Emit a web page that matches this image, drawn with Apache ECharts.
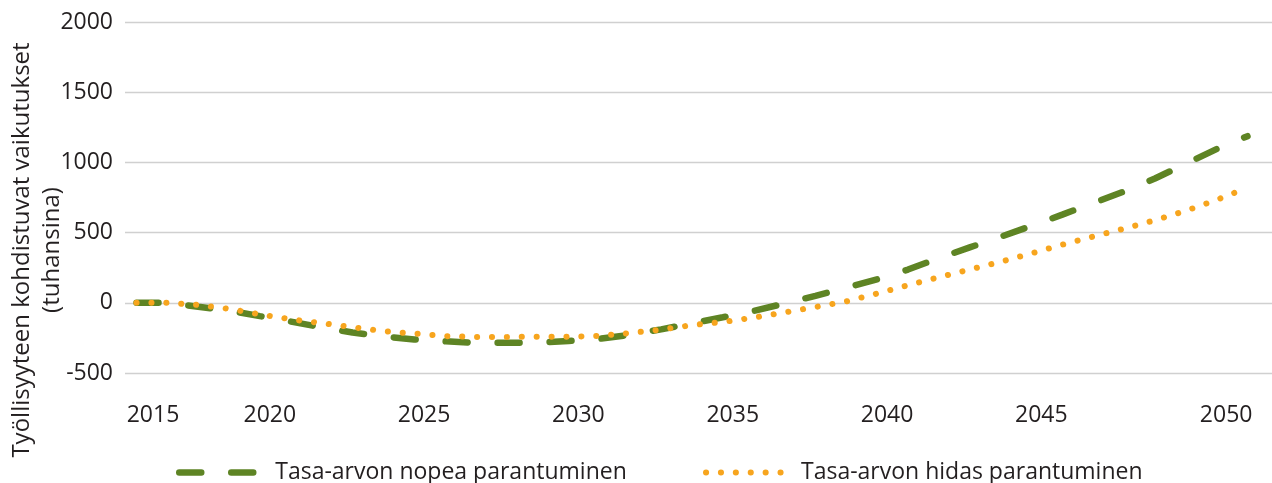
<!DOCTYPE html>
<html>
<head>
<meta charset="utf-8">
<script src="https://cdn.jsdelivr.net/npm/echarts@6/dist/echarts.min.js"></script>
<style>
html,body{margin:0;padding:0;background:#fff;}
#chart{width:1272px;height:483px;}
</style>
</head>
<body>
<div id="chart"></div>
<script>
// vuodet
var years = [2015, 2016, 2017, 2018, 2019, 2020, 2021, 2022, 2023, 2024,
	2025, 2026, 2027, 2028, 2029, 2030, 2031, 2032, 2033, 2034,
	2035, 2036, 2037, 2038, 2039, 2040, 2041, 2042, 2043, 2044,
	2045, 2046, 2047, 2048, 2049, 2050, 2051];
// Tasa-arvon nopea parantuminen
var fastValues = [0, 0, -28, -55, -95, -134, -174, -212, -239, -261,
	-274, -285, -285, -285, -272, -256, -228, -189, -146, -103,
	-58, -5, 50, 108, 168, 237, 318, 395, 470, 548,
	628, 710, 793, 885, 990, 1095, 1187];
// Tasa-arvon hidas parantuminen
var slowValues = [0, 0, -15, -43, -82, -118, -145, -174, -202, -219,
	-237, -244, -243, -242, -242, -236, -215, -191, -159, -137,
	-105, -68, -30, 10, 66, 125, 182, 237, 292, 352,
	414, 472, 528, 588, 655, 733, 820];
var xTicks = [2015, 2020, 2025, 2030, 2035, 2040, 2045, 2050];
var seriesNames = ['Tasa-arvon nopea parantuminen', 'Tasa-arvon hidas parantuminen'];
var yTitle = 'Työllisyyteen kohdistuvat vaikutukset\n(tuhansina)';

var FONT = '"Open Sans"';
var TXT = '#231f20';
var GREEN = '#5e8424';
var ORANGE = '#f7a51e';

function pairs(vals){
	var out = [];
	for (var i = 0; i < vals.length; i++) out.push([years[i], vals[i]]);
	return out;
}

var greenLine = {color: GREEN, width: 6.5, type: [22, 30], cap: 'round'};
var orangeLine = {color: ORANGE, width: 6, type: [0.1, 14.8], cap: 'round'};

var myChart = echarts.init(document.getElementById('chart'));
var option = {
	animation: false,
	grid: {left: 125, right: 0, top: 22, bottom: 110},
	xAxis: {
		type: 'value',
		min: 2014.627,
		max: 2051.794,
		splitLine: {show: false},
		axisLine: {show: false},
		axisTick: {show: false},
		axisLabel: {
			customValues: xTicks,
			margin: 31,
			formatter: function (v) {
				//reunojen tekstit hieman sisäänpäin
				if (v === 2015) return '{first|' + v + '}';
				if (v === 2050) return '{last|' + v + '}';
				return '{mid|' + v + '}';
			},
			rich: {
				first: {fontFamily: FONT, fontSize: 23, color: TXT, padding: [0, 0, 0, 33]},
				last: {fontFamily: FONT, fontSize: 23, color: TXT, padding: [0, 0, 0, 19]},
				mid: {fontFamily: FONT, fontSize: 23, color: TXT, padding: [0, 42, 0, 0]}
			}
		}
	},
	yAxis: {
		type: 'value',
		min: -500,
		max: 2000,
		interval: 500,
		axisLine: {show: false},
		axisTick: {show: false},
		axisLabel: {
			fontFamily: FONT, fontSize: 23, color: TXT, margin: 12,
			formatter: function (v) { return String(v); }
		},
		splitLine: {lineStyle: {color: '#d0d0d0', width: 1.3}}
	},
	legend: [{
		data: [seriesNames[0]],
		left: 176, top: 461, padding: 0,
		itemWidth: 74, itemHeight: 24,
		lineStyle: greenLine,
		itemStyle: {opacity: 0},
		formatter: '{t|{name}}',
		textStyle: {rich: {t: {fontFamily: FONT, fontSize: 23, color: TXT, padding: [0, 0, 0, 17]}}}
	}, {
		data: [seriesNames[1]],
		left: 703, top: 461, padding: 0,
		itemWidth: 75, itemHeight: 24,
		lineStyle: orangeLine,
		itemStyle: {opacity: 0},
		formatter: '{t|{name}}',
		textStyle: {rich: {t: {fontFamily: FONT, fontSize: 23, color: TXT, padding: [0, 0, 0, 15]}}}
	}],
	graphic: [{
		type: 'text',
		x: 37, y: 250,
		rotation: Math.PI / 2,
		style: {
			text: yTitle,
			fontFamily: FONT, fontSize: 24, fill: TXT,
			align: 'center', verticalAlign: 'middle', lineHeight: 30
		}
	}],
	series: [{
		name: seriesNames[0],
		type: 'line',
		showSymbol: false,
		symbol: 'none',
		data: pairs(fastValues),
		lineStyle: greenLine,
		itemStyle: {color: GREEN},
		z: 2
	}, {
		name: seriesNames[1],
		type: 'line',
		showSymbol: false,
		symbol: 'none',
		data: pairs(slowValues),
		lineStyle: orangeLine,
		itemStyle: {color: ORANGE},
		z: 3
	}]
};
myChart.setOption(option);
</script>
</body>
</html>
